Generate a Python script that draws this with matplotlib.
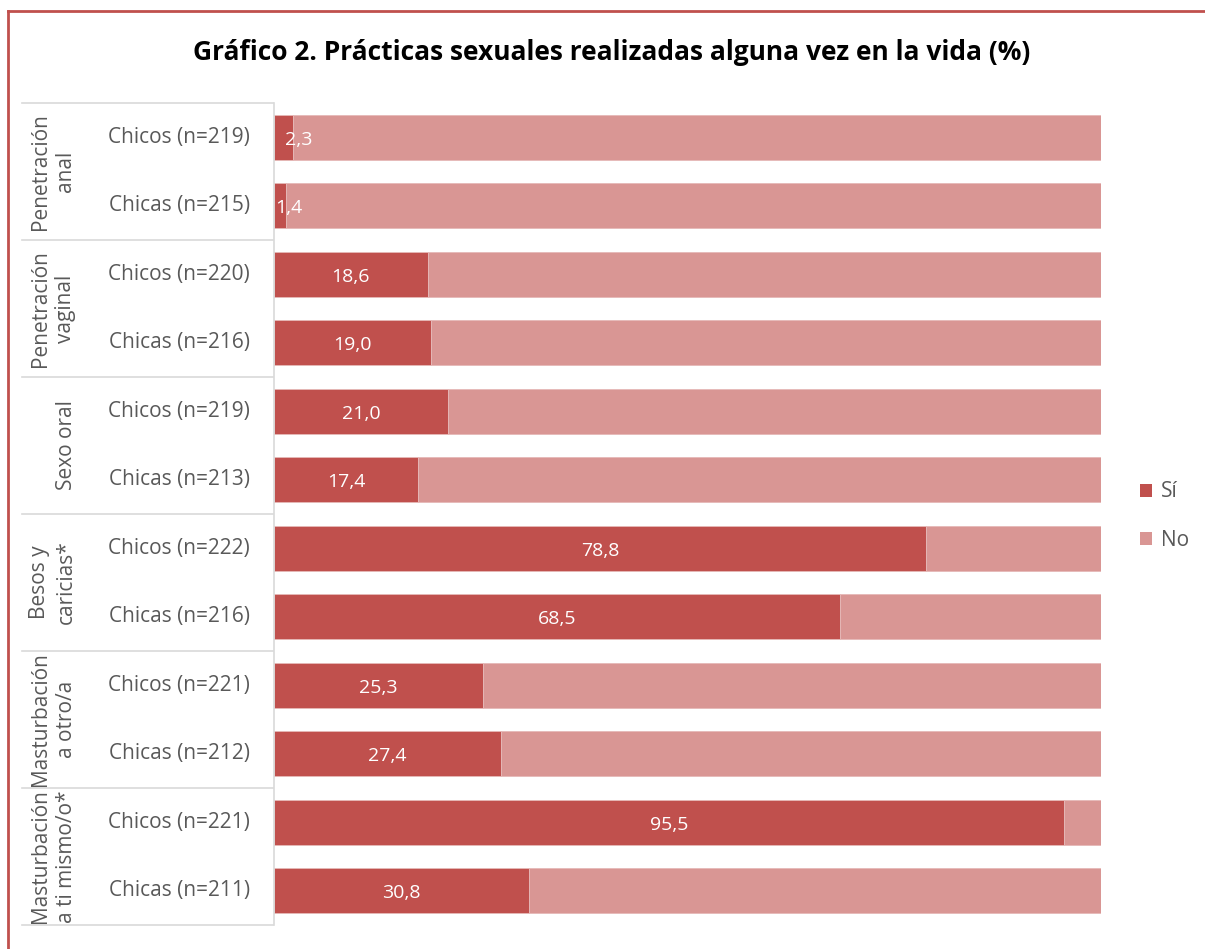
import matplotlib
matplotlib.use("Agg")
import matplotlib.pyplot as plt
from matplotlib.lines import Line2D
from matplotlib.patches import Patch

plt.rcParams['font.family'] = ['Open Sans', 'DejaVu Sans']

title = "Gráfico 2. Prácticas sexuales realizadas alguna vez en la vida (%)"
groups = ["Penetración\nanal", "Penetración\nvaginal", "Sexo oral", "Besos y\ncaricias*",
          "Masturbación\na otro/a", "Masturbación\na ti mismo/o*"]
sub_labels = ["Chicos (n=219)", "Chicas (n=215)",
              "Chicos (n=220)", "Chicas (n=216)",
              "Chicos (n=219)", "Chicas (n=213)",
              "Chicos (n=222)", "Chicas (n=216)",
              "Chicos (n=221)", "Chicas (n=212)",
              "Chicos (n=221)", "Chicas (n=211)"]
si = [2.3, 1.4, 18.6, 19.0, 21.0, 17.4, 78.8, 68.5, 25.3, 27.4, 95.5, 30.8]
no = [100 - v for v in si]
series_names = ["Sí", "No"]

c_si = "#C0504D"
c_no = "#D99694"
grey_txt = "#595959"
line_c = "#D9D9D9"
fs = 15

W, H = 1205, 949
fig = plt.figure(figsize=(W / 100, H / 100), dpi=100)

ax_left, ax_right = 274 / W, 1101 / W
ax_top, ax_bot = 1 - 103 / H, 1 - 925 / H
ax = fig.add_axes([ax_left, ax_bot, ax_right - ax_left, ax_top - ax_bot])

n = len(si)
ypos = list(range(n))
ax.barh(ypos, si, height=0.66, color=c_si, edgecolor="#E6B9B8", linewidth=0.6)
ax.barh(ypos, no, left=si, height=0.66, color=c_no, edgecolor="#E6B9B8", linewidth=0.6)
ax.set_xlim(0, 100)
ax.set_ylim(n - 0.5, -0.5)
ax.set_xticks([])
ax.set_yticks([])
for s in ["top", "right", "bottom"]:
    ax.spines[s].set_visible(False)
ax.spines["left"].set_color(line_c)
ax.spines["left"].set_linewidth(1.2)

for i, v in enumerate(si):
    xc = v / 2 if v >= 5 else v * 1.3
    ax.text(xc, i + 0.04, f"{v:.1f}".replace(".", ","), ha="center", va="center",
            color="white", fontsize=14)

# category labels
for i, lab in enumerate(sub_labels):
    ax.text(-0.029, i, lab, transform=ax.get_yaxis_transform(), ha="right", va="center",
            color=grey_txt, fontsize=fs)

# table lines and group labels
slot = (925 - 103) / n
for g in range(len(groups) + 1):
    yy = 1 - (103 + g * 2 * slot) / H
    fig.add_artist(Line2D([22 / W, 273 / W], [yy, yy], color=line_c, lw=1.2))
for g, lab in enumerate(groups):
    yc = 1 - (103 + (g * 2 + 1) * slot) / H
    lines = lab.split("\n")
    if len(lines) == 2:
        xs = [40, 66]
    else:
        xs = [66]
    for xx, t in zip(xs, lines):
        fig.text(xx / W, yc, t, rotation=90, ha="center", va="center",
                 color=grey_txt, fontsize=fs)

# title
fig.text(612 / W, 1 - 53 / H, title, ha="center", va="center", fontsize=19,
         fontweight="bold", color="black")

# legend
handles = [Patch(facecolor=c_si, edgecolor="none"), Patch(facecolor=c_no, edgecolor="none")]
leg = fig.legend(handles, series_names, loc="center left", bbox_to_anchor=(1121 / W, 1 - 516 / H),
                 frameon=False, fontsize=fs, handlelength=0.6, handleheight=0.6,
                 labelspacing=1.3, handletextpad=0.4, labelcolor=grey_txt)

# border (left and top visible)
fig.add_artist(Line2D([8 / W, 8 / W], [0, 1 - 11 / H], color=c_si, lw=2))
fig.add_artist(Line2D([8 / W, 1], [1 - 11 / H, 1 - 11 / H], color=c_si, lw=2))

fig.savefig("out.png", dpi=100)
